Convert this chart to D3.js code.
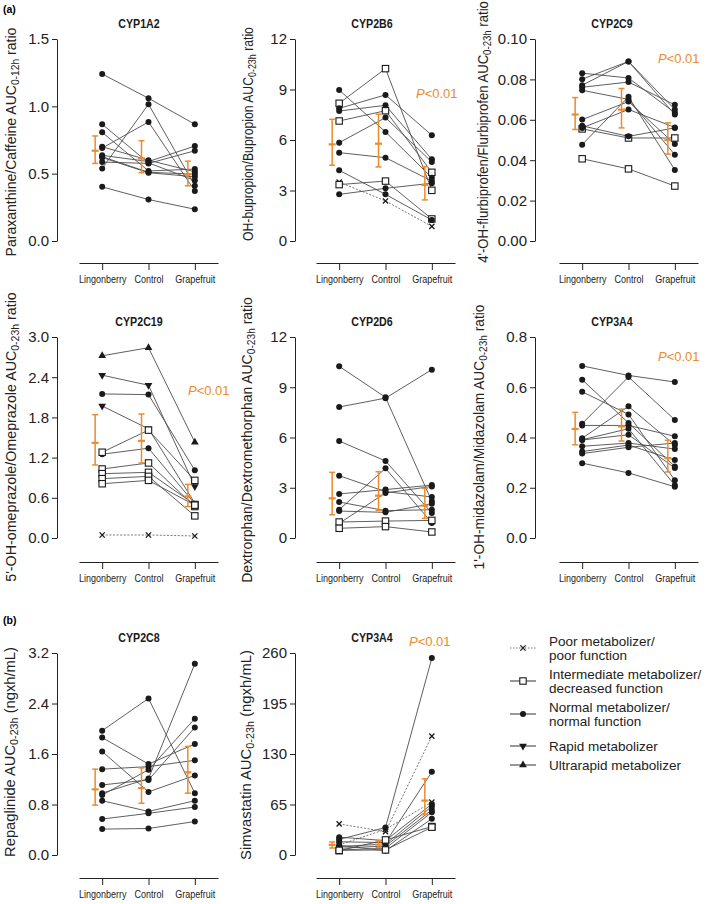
<!DOCTYPE html>
<html>
<head>
<meta charset="utf-8">
<title>CYP phenotyping cocktail</title>
<script src="https://cdn.jsdelivr.net/npm/d3@7/dist/d3.min.js"></script>
<style>
  body { margin: 0; background: #fff; }
  svg { display: block; font-family: Arial, "Liberation Sans", sans-serif; }
</style>
</head>
<body>
<svg id="svg" width="709" height="904"></svg>
<script>
  var conditions = ['Lingonberry', 'Control', 'Grapefruit'];
  var legendTypes = ['P', 'I', 'N', 'R', 'U'];
  var legendLabels = [['Poor metabolizer/', 'poor function'], ['Intermediate metabolizer/', 'decreased function'],
    ['Normal metabolizer/', 'normal function'], ['Rapid metabolizer'], ['Ultrarapid metabolizer']];

  // one row per subject: phenotype, lingonberry, control, grapefruit
  var cyp1a2 = [['N', 1.24, 1.06, 0.867], ['N', 0.867, 0.58, 0.45], ['N', 0.807, 0.52, 0.534], ['N', 0.70, 0.60, 0.514],
    ['N', 0.69, 0.884, 0.372], ['N', 0.636, 0.59, 0.705], ['N', 0.626, 0.51, 0.497], ['N', 0.586, 0.576, 0.67],
    ['N', 0.539, 1.016, 0.41], ['N', 0.62, 0.507, 0.477], ['N', 0.402, 0.308, 0.236]];
  var cyp2b6 = [['P', 3.5, 2.38, 0.87], ['I', 8.18, 10.24, 3.01], ['I', 7.13, 7.74, 4.08], ['I', 3.35, 3.56, 1.31],
    ['N', 8.97, 6.48, 3.76], ['N', 7.88, 8.68, 6.28], ['N', 7.72, 8.06, 4.85], ['N', 5.84, 7.33, 4.69],
    ['N', 5.25, 4.95, 3.56], ['N', 4.2, 2.77, 1.25], ['N', 2.77, 3.13, 3.43]];
  var cyp2c9 = [['I', 0.0555, 0.051, 0.051], ['I', 0.0407, 0.0357, 0.0272], ['N', 0.0831, 0.0807, 0.0635],
    ['N', 0.0801, 0.0889, 0.0626], ['N', 0.0771, 0.0889, 0.0651], ['N', 0.0761, 0.0787, 0.0674],
    ['N', 0.0746, 0.0701, 0.0427], ['N', 0.0601, 0.069, 0.048], ['N', 0.057, 0.0518, 0.056],
    ['N', 0.0477, 0.0714, 0.0352], ['N', 0.056, 0.0651, 0.0562]];
  var cyp2c19 = [['U', 2.72, 2.84, 1.43], ['R', 2.43, 2.28, 0.77], ['R', 1.97, 1.63, 0.52], ['N', 2.15, 2.14, 1.01],
    ['N', 1.25, 1.34, 0.51], ['I', 1.28, 1.61, 0.86], ['I', 1.03, 1.12, 0.47], ['I', 0.96, 0.98, 0.5],
    ['I', 0.886, 0.92, 0.33], ['I', 0.81, 0.86, 0.49], ['P', 0.045, 0.045, 0.03]];
  var cyp2d6 = [['N', 10.25, 8.4, 2.19], ['N', 7.82, 8.35, 10.05], ['N', 5.79, 4.6, 1.49], ['N', 3.72, 2.77, 2.45],
    ['N', 2.63, 2.89, 3.16], ['N', 2.15, 1.63, 1.69], ['N', 1.69, 4.16, 0.9], ['N', 1.61, 1.53, 2.05],
    ['N', 0.875, 2.69, 3.08], ['I', 0.955, 1.01, 1.05], ['I', 0.58, 0.68, 0.36]];
  var cyp3a4 = [['N', 0.685, 0.647, 0.621], ['N', 0.63, 0.458, 0.285], ['N', 0.582, 0.492, 0.23], ['N', 0.455, 0.641, 0.47],
    ['N', 0.448, 0.448, 0.405], ['N', 0.397, 0.524, 0.37], ['N', 0.391, 0.435, 0.21], ['N', 0.39, 0.411, 0.279],
    ['N', 0.365, 0.378, 0.354], ['N', 0.344, 0.37, 0.31], ['N', 0.336, 0.361, 0.378], ['N', 0.298, 0.259, 0.204]];
  var cyp2c8 = [['N', 1.97, 2.48, 0.98], ['N', 1.86, 1.44, 1.76], ['N', 1.64, 1.0, 1.26], ['N', 1.36, 1.40, 1.5],
    ['N', 1.11, 1.19, 2.02], ['N', 0.98, 1.21, 3.03], ['N', 0.95, 1.35, 2.16], ['N', 0.86, 0.69, 0.86],
    ['N', 0.57, 0.66, 0.76], ['N', 0.41, 0.42, 0.53]];
  var simva = [['P', 40, 30, 153], ['P', 13, 33, 68], ['N', 20, 35.3, 253.5], ['N', 17, 16, 107], ['N', 23, 18.5, 65.5],
    ['N', 11, 14, 62.5], ['N', 8.6, 11.6, 58], ['N', 6.5, 8.6, 55], ['N', 12.5, 5.5, 46.6], ['I', 5.6, 19.4, 36.6],
    ['I', 6, 6.5, 35.8]];

  // geometric mean with 95% CI per condition: [mean, low, high]
  var cyp1a2Stats = [[0.67, 0.576, 0.78], [0.613, 0.507, 0.745], [0.497, 0.41, 0.593]];
  var cyp2b6Stats = [[5.74, 4.5, 7.23], [5.78, 4.4, 7.53], [3.33, 2.44, 4.42]];
  var cyp2c9Stats = [[0.0626, 0.0552, 0.071], [0.065, 0.056, 0.0755], [0.050, 0.043, 0.0585]];
  var cyp2c19Stats = [[1.42, 1.09, 1.84], [1.45, 1.12, 1.85], [0.62, 0.47, 0.8]];
  var cyp2d6Stats = [[2.37, 1.39, 3.92], [2.53, 1.65, 3.96], [1.93, 1.17, 2.97]];
  var cyp3a4Stats = [[0.434, 0.371, 0.5], [0.444, 0.386, 0.513], [0.318, 0.263, 0.389]];
  var cyp2c8Stats = [[1.04, 0.79, 1.36], [1.06, 0.82, 1.38], [1.31, 0.98, 1.72]];
  var simvaStats = [[13, 9, 16.8], [13.4, 9.5, 18.5], [70, 52, 98]];

  var cyp1a2Ticks = [0, 0.5, 1.0, 1.5];
  var cyp2b6Ticks = [0, 3, 6, 9, 12];
  var cyp2c9Ticks = [0, 0.02, 0.04, 0.06, 0.08, 0.10];
  var cyp2c19Ticks = [0, 0.6, 1.2, 1.8, 2.4, 3.0];
  var cyp2d6Ticks = [0, 3, 6, 9, 12];
  var cyp3a4Ticks = [0, 0.2, 0.4, 0.6, 0.8];
  var cyp2c8Ticks = [0, 0.8, 1.6, 2.4, 3.2];
  var simvaTicks = [0, 65, 130, 195, 260];

  var panels = [
    { title: 'CYP1A2', data: cyp1a2, stats: cyp1a2Stats, ticks: cyp1a2Ticks, fmt: '.1f', row: 0, col: 0,
      label: ['Paraxanthine/Caffeine AUC', '0-12h', ' ratio'], lx: 16, lmid: 142, llen: 229 },
    { title: 'CYP2B6', data: cyp2b6, stats: cyp2b6Stats, ticks: cyp2b6Ticks, fmt: 'd', row: 0, col: 1,
      label: ['OH-bupropion/Bupropion AUC', '0-23h', ' ratio'], lx: 253, lmid: 134, llen: 214, p: [416, 98] },
    { title: 'CYP2C9', data: cyp2c9, stats: cyp2c9Stats, ticks: cyp2c9Ticks, fmt: '.2f', row: 0, col: 2,
      label: ['4\'-OH-flurbiprofen/Flurbiprofen AUC', '0-23h', ' ratio'], lx: 488, lmid: 132, llen: 262, p: [658, 63] },
    { title: 'CYP2C19', data: cyp2c19, stats: cyp2c19Stats, ticks: cyp2c19Ticks, fmt: '.1f', row: 1, col: 0,
      label: ['5\'-OH-omeprazole/Omeprazole AUC', '0-23h', ' ratio'], lx: 16, lmid: 437, llen: 290, p: [188, 395] },
    { title: 'CYP2D6', data: cyp2d6, stats: cyp2d6Stats, ticks: cyp2d6Ticks, fmt: 'd', row: 1, col: 1,
      label: ['Dextrorphan/Dextromethorphan AUC', '0-23h', ' ratio'], lx: 252, lmid: 440, llen: 286 },
    { title: 'CYP3A4', data: cyp3a4, stats: cyp3a4Stats, ticks: cyp3a4Ticks, fmt: '.1f', row: 1, col: 2,
      label: ['1\'-OH-midazolam/Midazolam AUC', '0-23h', ' ratio'], lx: 484, lmid: 437, llen: 265, p: [658, 361] },
    { title: 'CYP2C8', data: cyp2c8, stats: cyp2c8Stats, ticks: cyp2c8Ticks, fmt: '.1f', row: 2, col: 0,
      label: ['Repaglinide AUC', '0-23h', ' (ngxh/mL)'], lx: 15, lmid: 752, llen: 210 },
    { title: 'CYP3A4', data: simva, stats: simvaStats, ticks: simvaTicks, fmt: 'd', row: 2, col: 1,
      label: ['Simvastatin AUC', '0-23h', ' (ngxh/mL)'], lx: 251, lmid: 755, llen: 210, p: [409, 646] }
  ];

  // layout
  var colAxisX = [57, 295, 535];
  var colStartX = [79, 316, 559];
  var colTitleX = [139, 372, 612];
  var axisW = 139;
  var rowTop = [39, 337, 653];
  var rowBottom = [241, 538, 855];
  var rowBase = [263, 562, 878];
  var orange = '#ec8b2b';
  var ink = '#1a1a1a';
  var narrow = 0.82; // no condensed font installed, squeeze Arial instead

  var svg = d3.select('#svg');

  svg.append('text').attr('x', 3).attr('y', 13).attr('font-size', 10.5).attr('font-weight', 'bold').text('(a)');
  svg.append('text').attr('x', 3).attr('y', 624).attr('font-size', 10.5).attr('font-weight', 'bold').text('(b)');

  function drawMarker(g, type, x, y) {
    if (type == 'N') {
      g.append('circle').attr('cx', x).attr('cy', y).attr('r', 3).attr('fill', ink);
    } else if (type == 'I') {
      g.append('rect').attr('x', x - 3.2).attr('y', y - 3.2).attr('width', 6.4).attr('height', 6.4)
        .attr('fill', '#fff').attr('stroke', ink).attr('stroke-width', 1.1);
    } else if (type == 'P') {
      g.append('path').attr('d', 'M' + (x - 2.6) + ',' + (y - 2.6) + 'l5.2,5.2M' + (x - 2.6) + ',' + (y + 2.6) + 'l5.2,-5.2')
        .attr('stroke', ink).attr('stroke-width', 1.3);
    } else {
      g.append('path').attr('d', d3.symbol().type(d3.symbolTriangle).size(26)())
        .attr('transform', 'translate(' + x + ',' + y + ')' + (type == 'R' ? ' rotate(180)' : ''))
        .attr('fill', ink);
    }
  }

  panels.forEach(function (p) {
    var g = svg.append('g');
    var ax = colAxisX[p.col];
    var x = d3.scalePoint().domain(conditions).range([colStartX[p.col], colStartX[p.col] + axisW]).padding(0.5);
    var y = d3.scaleLinear().domain([0, d3.max(p.ticks)]).range([rowBottom[p.row], rowTop[p.row]]);

    // y axis
    var yAxis = g.append('g').attr('transform', 'translate(' + ax + ',0)')
      .call(d3.axisLeft(y).tickValues(p.ticks).tickSize(5).tickSizeOuter(0).tickPadding(3).tickFormat(d3.format(p.fmt)));
    yAxis.selectAll('text').attr('font-size', 15).attr('fill', '#222');
    yAxis.attr('font-family', null);
    yAxis.selectAll('line, path').attr('stroke', '#222');

    // x axis, detached below the plot
    var xAxis = g.append('g').attr('transform', 'translate(0,' + rowBase[p.row] + ')')
      .call(d3.axisBottom(x).tickSize(7).tickSizeOuter(0).tickPadding(5));
    xAxis.attr('font-family', null);
    xAxis.selectAll('text').attr('font-size', 11).attr('fill', '#222').attr('transform', 'scale(' + narrow + ',1)');
    xAxis.selectAll('line, path').attr('stroke', '#222');

    // title
    g.append('text').attr('transform', 'translate(' + colTitleX[p.col] + ',' + (rowTop[p.row] - 11) + ') scale(' + narrow + ',1)')
      .attr('text-anchor', 'middle').attr('font-size', 13).attr('font-weight', 'bold').attr('fill', ink).text(p.title);

    // y axis label with subscript, squeezed to the original span
    var lab = g.append('text').attr('font-size', 15).attr('fill', '#222').attr('text-anchor', 'middle');
    lab.append('tspan').text(p.label[0]);
    lab.append('tspan').attr('font-size', 11).attr('dy', 3).text(p.label[1]);
    lab.append('tspan').attr('dy', -3).text(p.label[2]);
    var len = lab.node().getComputedTextLength();
    lab.attr('transform', 'translate(' + p.lx + ',' + p.lmid + ') rotate(-90) scale(' + (p.llen / len) + ',1)');

    // subject lines
    var line = d3.line().x(function (d, i) { return x(conditions[i]); }).y(function (d) { return y(d); });
    p.data.forEach(function (s) {
      g.append('path').attr('d', line(s.slice(1))).attr('fill', 'none')
        .attr('stroke', s[0] == 'P' ? '#666' : '#4d4d4d').attr('stroke-width', 0.9)
        .attr('stroke-dasharray', s[0] == 'P' ? '2,1.6' : null);
    });
    p.data.forEach(function (s) {
      conditions.forEach(function (c, i) { drawMarker(g, s[0], x(c), y(s[i + 1])); });
    });

    // mean and confidence interval, shifted left of the tick
    p.stats.forEach(function (st, i) {
      var cx = x(conditions[i]) - 7;
      g.append('line').attr('x1', cx).attr('x2', cx).attr('y1', y(st[1])).attr('y2', y(st[2]))
        .attr('stroke', orange).attr('stroke-width', 1.5);
      [st[1], st[2]].forEach(function (v) {
        g.append('line').attr('x1', cx - 3).attr('x2', cx + 3).attr('y1', y(v)).attr('y2', y(v))
          .attr('stroke', orange).attr('stroke-width', 1.5);
      });
      g.append('line').attr('x1', cx - 3.5).attr('x2', cx + 3.5).attr('y1', y(st[0])).attr('y2', y(st[0]))
        .attr('stroke', orange).attr('stroke-width', 2.2);
    });

    if (p.p) {
      var pt = g.append('text').attr('x', p.p[0]).attr('y', p.p[1]).attr('font-size', 13).attr('fill', orange);
      pt.append('tspan').attr('font-style', 'italic').text('P');
      pt.append('tspan').text('<0.01');
    }
  });

  // legend
  var legendY = [648, 681, 714, 746, 765];
  var lg = svg.append('g');
  legendTypes.forEach(function (t, i) {
    var yy = legendY[i];
    lg.append('line').attr('x1', 510).attr('x2', 536).attr('y1', yy).attr('y2', yy)
      .attr('stroke', t == 'P' ? '#777' : '#333').attr('stroke-width', 1)
      .attr('stroke-dasharray', t == 'P' ? '1.5,1.5' : null);
    drawMarker(lg, t, 523, yy);
    var lines = legendLabels[i];
    lines.forEach(function (txt, j) {
      var off = lines.length == 2 ? (j == 0 ? -7 : 7.5) : 0;
      lg.append('text').attr('x', 549).attr('y', yy + off + 4.6).attr('font-size', 13.5).attr('fill', '#222').text(txt);
    });
  });
</script>
</body>
</html>
